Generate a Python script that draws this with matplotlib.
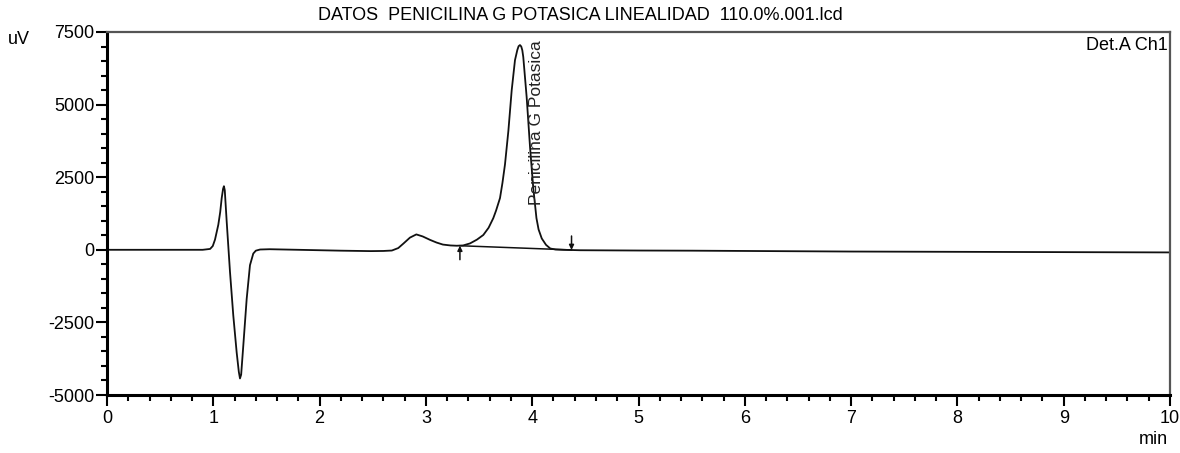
import numpy as np
import matplotlib
matplotlib.use("Agg")
import matplotlib.pyplot as plt
from matplotlib.ticker import MultipleLocator

# chromatogram (time in min, signal in uV)
time_min = [0.00, 0.50, 0.90, 0.97, 0.995, 1.016, 1.047, 1.065, 1.079, 1.092,
            1.10, 1.108, 1.126, 1.157, 1.188, 1.22, 1.24, 1.251, 1.262, 1.282,
            1.314, 1.345, 1.376, 1.40, 1.44, 1.53, 1.80, 2.20, 2.48, 2.60,
            2.68, 2.74, 2.79, 2.85, 2.91, 2.97, 3.04, 3.10, 3.16, 3.23,
            3.29, 3.35, 3.415, 3.48, 3.54, 3.59, 3.634, 3.66, 3.697, 3.72,
            3.744, 3.776, 3.807, 3.838, 3.86, 3.872, 3.885, 3.897, 3.907, 3.916,
            3.948, 3.98, 4.01, 4.04, 4.06, 4.09, 4.13, 4.17, 4.22, 4.29,
            4.45, 5.00, 5.50, 6.00, 7.00, 8.00, 9.00, 10.00]
signal_uv = [0, 0, 0, 30, 130, 350, 860, 1300, 1780, 2100,
             2190, 2050, 970, -760, -2260, -3540, -4200, -4430, -4300, -3310,
             -1690, -530, -130, -30, 10, 20, 0, -30, -45, -40,
             -25, 60, 220, 420, 530, 460, 340, 250, 180, 150,
             140, 150, 220, 350, 510, 760, 1090, 1350, 1780, 2300,
             2940, 4100, 5490, 6530, 6880, 7010, 7050, 7000, 6870, 6640,
             5250, 3520, 2130, 1090, 700, 390, 170, 45, 10, 0,
             -15, -25, -30, -40, -60, -70, -80, -90]

peak_name = "Penicilina G Potasica"
peak_start, peak_end = 3.32, 4.37
base_start, base_end = 140, -5

title = "DATOS  PENICILINA G POTASICA LINEALIDAD  110.0%.001.lcd"

plt.rcParams["font.family"] = ["Liberation Sans", "DejaVu Sans"]
plt.rcParams["axes.unicode_minus"] = False

fig = plt.figure(figsize=(11.8, 4.53), dpi=100)
ax = fig.add_axes([107 / 1180, 1 - 395 / 453, 1063 / 1180, 363 / 453])

ax.plot(time_min, signal_uv, color="#111111", lw=1.3)

# integration baseline and start/end marks
ax.plot([peak_start, peak_end], [base_start, base_end], color="#111111", lw=1.1)
ax.annotate("", xy=(peak_start, base_start), xytext=(peak_start, base_start - 480),
            arrowprops=dict(arrowstyle="-|>", color="#111111", lw=1.1,
                            mutation_scale=7, shrinkA=0, shrinkB=0))
ax.annotate("", xy=(peak_end, base_end), xytext=(peak_end, base_end + 480),
            arrowprops=dict(arrowstyle="-|>", color="#111111", lw=1.1,
                            mutation_scale=7, shrinkA=0, shrinkB=0))

ax.text(4.045, 1550, peak_name, rotation=90, ha="center", va="bottom",
        fontsize=12.5, color="#222222")

ax.set_xlim(0, 10)
ax.set_ylim(-5000, 7500)
ax.xaxis.set_major_locator(MultipleLocator(1))
ax.xaxis.set_minor_locator(MultipleLocator(0.2))
ax.yaxis.set_major_locator(MultipleLocator(2500))
ax.yaxis.set_minor_locator(MultipleLocator(500))

ax.tick_params(axis="both", which="major", direction="out", length=8, width=1.5,
               labelsize=13, pad=1)
ax.tick_params(axis="both", which="minor", direction="out", length=4, width=1.5)
ax.tick_params(axis="x", which="major", pad=3)

for side in ["left", "bottom"]:
    ax.spines[side].set_linewidth(2.2)
    ax.spines[side].set_color("black")
for side in ["top", "right"]:
    ax.spines[side].set_linewidth(1.6)
    ax.spines[side].set_color("#555555")

fig.text(580 / 1180, 1 - 15 / 453, title, ha="center", va="center", fontsize=13)
fig.text(8 / 1180, 1 - 40 / 453, "uV", ha="left", va="center", fontsize=13)
fig.text(1168 / 1180, 1 - 440 / 453, "min", ha="right", va="center", fontsize=13)
ax.text(0.998, 0.985, "Det.A Ch1", transform=ax.transAxes, ha="right", va="top",
        fontsize=13)

fig.savefig("out.png", dpi=100)
plt.close(fig)
